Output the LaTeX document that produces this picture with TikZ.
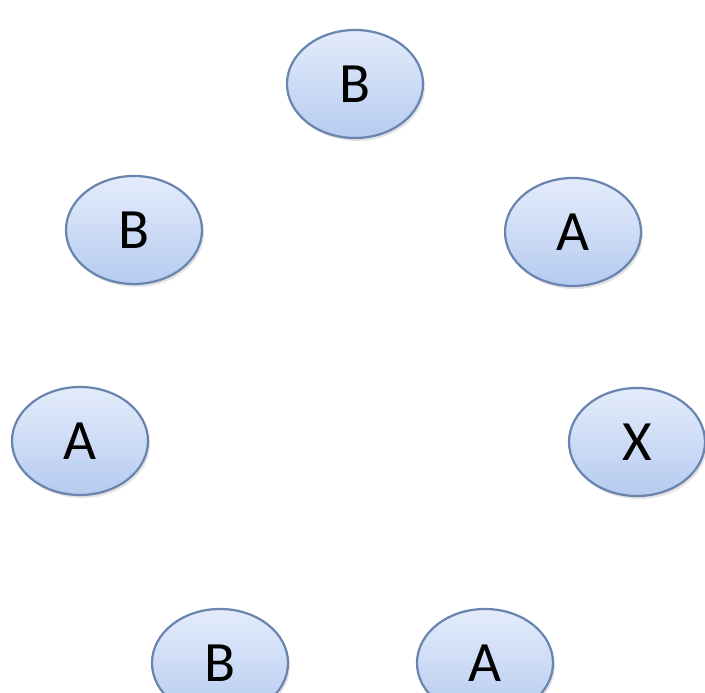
\documentclass[tikz,border=0pt]{standalone}
\usepackage{fontspec}
\setmainfont{Carlito}
\usetikzlibrary{shapes.geometric,shadows}
\definecolor{rimblue}{RGB}{104,132,175}
\definecolor{filltop}{RGB}{228,236,251}
\definecolor{fillbot}{RGB}{182,203,240}
\tikzset{
  bubble/.style={ellipse, draw=rimblue, line width=2.2pt,
    top color=filltop, bottom color=fillbot,
    minimum width=136pt, minimum height=108pt, inner sep=0pt,
    font=\fontsize{57}{57}\selectfont, text=black,
    drop shadow={opacity=0.22, shadow xshift=2pt, shadow yshift=-3pt}}
}
\begin{document}
\begin{tikzpicture}[x=1pt,y=1pt]
\useasboundingbox (0,0) rectangle (705,693);
\clip (0,0) rectangle (705,693);
\fill[white] (0,0) rectangle (705,693);
\node[bubble] (btop)   at (355,609) {B};
\node[bubble] (bleft)  at (134,463) {B};
\node[bubble] (aright) at (573,461) {A};
\node[bubble] (aleft)  at (80,252) {A};
\node[bubble] (x)      at (637,251) {X};
\node[bubble] (bbot)   at (220,30) {B};
\node[bubble] (abot)   at (485,30) {A};
\end{tikzpicture}
\end{document}
